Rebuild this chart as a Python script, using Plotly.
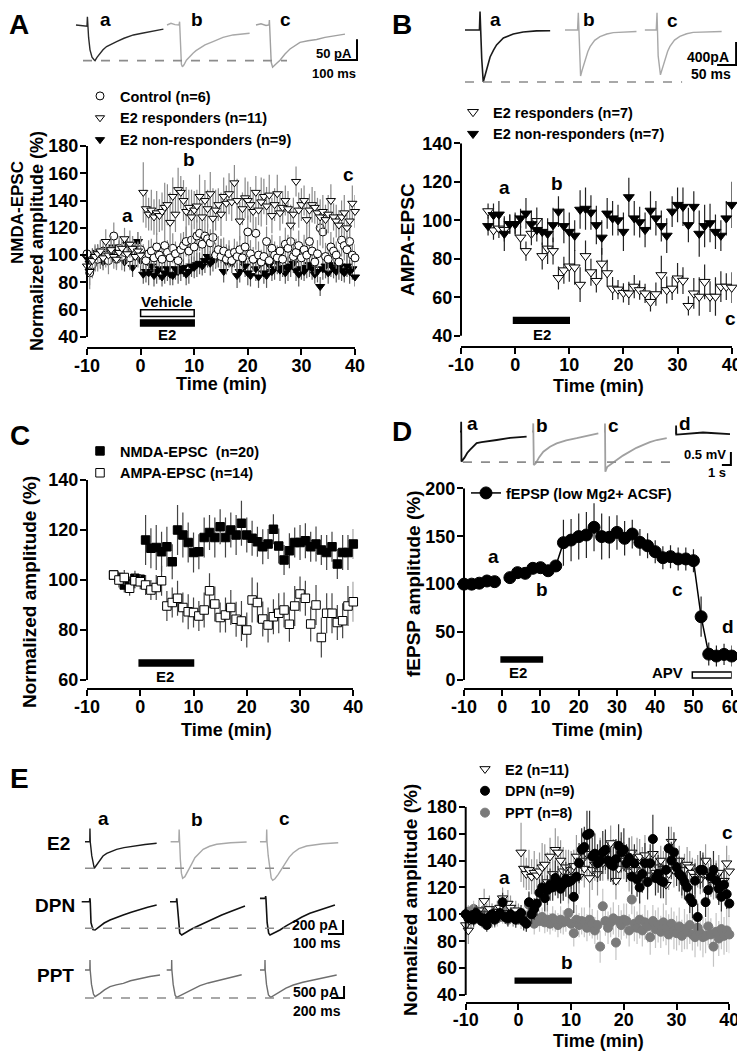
import plotly.graph_objects as go

W, H = 745, 1055          # page (window) size in px
OFF = 8                   # default page margin around the plot div
WF, HF = W - OFF, H - OFF # figure size so the figure fills the window
FONT = "Liberation Sans, Arial, Helvetica, sans-serif"

# ====================== DATA ======================
# ---- Panel A: NMDA-EPSC, 0.5-min bins from -10 to 40 min ----
A_TIME = [-10 + 0.5 * i for i in range(101)]
A_CONTROL = [
    101, 87, 93, 99, 97, 101, 103, 100, 96, 104,
    114, 97, 105, 99, 102, 103, 98, 104, 101, 100,
    104, 99, 96, 101, 103, 98, 106, 100, 97, 107,
    102, 98, 105, 101, 96, 104, 107, 110, 103, 111,
    106, 114, 116, 108, 114, 112, 109, 113, 100, 104,
    99, 103, 97, 101, 96, 102, 99, 104, 98, 106,
    117, 101, 97, 116, 100, 95, 99, 110, 96, 105,
    100, 98, 103, 97, 108, 105, 110, 99, 102, 107,
    98, 104, 100, 110, 103, 95, 101, 120, 117, 99,
    97, 106, 103, 100, 95, 111, 107, 104, 110, 100,
    98]
A_CONTROL_ERR = [
    9, 12, 10, 8, 9, 10, 8, 9, 10, 9,
    10, 8, 9, 10, 9, 8, 9, 10, 8, 9,
    10, 9, 8, 10, 9, 11, 10, 9, 8, 10,
    9, 10, 11, 9, 10, 12, 10, 11, 9, 12,
    11, 12, 13, 10, 12, 11, 10, 12, 9, 10,
    9, 10, 11, 10, 9, 10, 11, 10, 9, 10,
    12, 10, 9, 12, 10, 9, 10, 11, 9, 10,
    10, 9, 11, 10, 12, 10, 11, 9, 10, 11,
    10, 11, 10, 12, 10, 9, 10, 13, 12, 10,
    9, 11, 10, 10, 9, 12, 11, 10, 12, 10,
    10]
A_RESP = [
    92, 88, 96, 99, 101, 103, 98, 110, 100, 104,
    99, 97, 102, 105, 112, 101, 108, 105, 99, 103,
    100, 146, 134, 130, 133, 128, 131, 129, 132, 135,
    137, 124, 143, 130, 148, 146, 140, 132, 135, 128,
    133, 136, 143, 128, 140, 134, 145, 127, 133, 137,
    130, 143, 138, 145, 139, 153, 140, 125, 134, 142,
    140, 137, 132, 146, 133, 139, 143, 136, 144, 129,
    137, 145, 131, 135, 140, 134, 122, 130, 154, 133,
    137, 140, 126, 133, 137, 135, 131, 128, 132, 126,
    130, 140, 128, 125, 122, 128, 131, 120, 125, 138,
    132]
A_RESP_ERR = [
    8, 10, 7, 9, 6, 8, 7, 9, 8, 10,
    9, 7, 8, 9, 8, 7, 10, 9, 8, 7,
    8, 22, 14, 12, 15, 13, 16, 12, 14, 18,
    15, 22, 14, 13, 16, 12, 15, 18, 13, 20,
    14, 12, 16, 13, 15, 14, 16, 22, 15, 12,
    16, 14, 13, 15, 14, 13, 16, 14, 12, 15,
    14, 13, 15, 12, 11, 18, 13, 14, 15, 13,
    12, 14, 13, 12, 11, 13, 15, 12, 11, 13,
    12, 11, 14, 12, 13, 12, 11, 13, 12, 11,
    14, 12, 10, 12, 11, 12, 13, 11, 12, 13,
    12]
A_NONRESP = [
    98, 94, 100, 96, 102, 97, 95, 104, 99, 101,
    106, 97, 103, 100, 95, 108, 98, 91, 105, 110,
    96, 86, 88, 87, 92, 85, 88, 90, 84, 87,
    90, 86, 85, 90, 88, 89, 91, 86, 88, 92,
    91, 93, 94, 92, 96, 99, 94, 96, 97, 99,
    103, 88, 95, 99, 94, 99, 85, 88, 96, 92,
    87, 85, 96, 90, 84, 94, 87, 85, 93, 88,
    90, 95, 89, 91, 87, 90, 92, 94, 89, 86,
    90, 88, 91, 93, 90, 86, 88, 77, 90, 92,
    87, 93, 90, 88, 91, 89, 87, 92, 88, 90,
    84]
A_NONRESP_ERR = [
    6, 7, 5, 8, 6, 7, 6, 5, 7, 6,
    7, 6, 8, 6, 7, 6, 8, 7, 6, 7,
    8, 7, 8, 9, 7, 8, 9, 8, 7, 8,
    9, 8, 7, 8, 9, 8, 7, 8, 9, 8,
    8, 9, 8, 7, 9, 8, 9, 8, 7, 8,
    9, 8, 9, 8, 7, 8, 9, 8, 7, 8,
    9, 8, 7, 9, 8, 7, 8, 9, 8, 7,
    8, 9, 8, 7, 8, 9, 8, 7, 8, 9,
    8, 7, 8, 9, 8, 7, 8, 7, 8, 9,
    8, 9, 7, 8, 9, 8, 7, 8, 9, 8,
    7]

# ---- Panel B: AMPA-EPSC, 1-min bins from -5 to 40 min ----
B_TIME = list(range(-5, 41))
B_RESP = [
    104.7, 94.8, 95.7, 95, 98, 98, 91, 84, 93, 99.6,
    81.4, 85.3, 84, 70, 74, 76, 75.5, 66.5, 81.4, 73,
    68.5, 77.5, 72.5, 64.5, 64, 62.3, 62, 65.5, 63.7, 62,
    57.6, 61.6, 71.5, 63.7, 64.5, 69.8, 68.6, 55.5, 62, 60.3,
    68, 60.3, 60.3, 65.5, 65.5, 65]
B_RESP_ERR = [
    4, 5, 5, 6, 5, 5, 6, 5, 6, 7,
    7, 8, 7, 6, 7, 8, 9, 9, 8, 7,
    6, 8, 7, 6, 5, 5, 6, 6, 5, 5,
    5, 6, 10, 7, 6, 8, 7, 5, 8, 10,
    9, 8, 10, 8, 7, 8]
B_NONRESP = [
    97, 102.7, 103, 93, 98, 98, 101, 103.5, 98, 95,
    94, 93, 97.5, 104.5, 97, 94, 92, 105.5, 106, 104,
    97.5, 91, 103.5, 101, 100, 94, 112, 101, 99, 95,
    105, 101, 97, 92, 104.5, 108, 107, 97.5, 107, 93,
    97, 98.5, 94, 92, 101, 108]
B_NONRESP_ERR = [
    5, 6, 7, 9, 5, 6, 5, 8, 7, 6,
    7, 8, 9, 8, 9, 10, 8, 10, 11, 9,
    10, 9, 8, 9, 8, 10, 10, 9, 8, 9,
    10, 9, 8, 9, 8, 9, 10, 9, 8, 12,
    11, 10, 9, 8, 9, 12]

# ---- Panel C: 1-min bins from -5 to 40 min ----
C_TIME = list(range(-5, 41))
C_NMDA = [
    102, 101, 98, 98.4, 100.7, 100.3, 116, 112.7, 113, 111.3,
    113.3, 107.3, 120, 118, 115, 111, 111.3, 117, 119, 117,
    121.3, 117, 120, 118, 122.7, 118, 116.7, 115.3, 113.3, 114.4,
    120.3, 113.6, 108, 111.7, 115, 115, 115.7, 113.3, 114.4, 112,
    111, 113.3, 106.4, 111, 111, 114.4]
C_NMDA_ERR = [
    2, 2, 3, 3, 3, 2, 10, 8, 9, 8,
    8, 7, 10, 9, 8, 8, 7, 8, 7, 8,
    7, 8, 7, 8, 9, 7, 7, 6, 7, 6,
    6, 7, 6, 7, 6, 7, 7, 6, 7, 6,
    7, 6, 6, 7, 7, 6]
C_AMPA = [
    102, 100, 101, 96.7, 99.7, 99.3, 98, 96, 97, 99.7,
    89.6, 91, 92.7, 89, 87.3, 87, 85.6, 88, 95.7, 90.4,
    85, 86, 89, 84.3, 83.6, 80, 92, 91, 84.4, 82,
    85.3, 86.7, 88, 82.3, 89.6, 94.4, 92.7, 82.4, 90, 77,
    86.7, 86.7, 83, 83.7, 89.6, 91.3]
C_AMPA_ERR = [
    2, 3, 3, 3, 3, 3, 4, 4, 5, 6,
    6, 6, 7, 6, 7, 6, 6, 7, 7, 7,
    6, 7, 7, 7, 8, 7, 9, 8, 7, 7,
    7, 8, 7, 7, 8, 7, 7, 7, 8, 8,
    8, 8, 7, 7, 8, 8]

# ---- Panel D: fEPSP, 2-min bins (gap at 0 min) ----
D_TIME = [-10, -8, -6, -4, -2, 0, 2, 4, 6, 8, 10, 12, 14, 16, 18, 20,
          22, 24, 26, 28, 30, 32, 34, 36, 38, 40,
          42, 44, 46, 48, 50, 52, 54, 56, 58, 60]
D_AMP = [100, 100, 101, 103.3, 102.6, None,
         106.8, 112, 111.3, 116.5, 117.2, 114, 119, 143.3, 146, 149.6,
         151.3, 159.3, 149.6, 148.9, 154, 147.8, 152.3, 143.6, 140, 133.9,
         127.6, 128.7, 126.3, 126.3, 124.5, 66, 27, 25, 26.7, 25]
D_ERR = [1, 1, 1, 1, 1, 0,
         3, 6, 6, 4, 5, 4, 5, 24, 22, 24,
         24, 25, 24, 22, 18, 18, 15, 14, 13, 12,
         12, 12, 12, 12, 12, 21, 12, 11, 11, 11]

# ---- Panel E: 0.5-min bins from -10 to 40 min ----
E_TIME = A_TIME
E_E2 = A_RESP           # same E2 (n=11) recordings as panel A responders
E_E2_ERR = A_RESP_ERR
E_DPN = [
    100, 97, 99, 96, 101, 98, 95, 97, 92, 98,
    100, 96, 99, 101, 109, 98, 97, 100, 98, 96,
    99, 101, 95, 93, 109, 100, 104, 108, 116, 120,
    112, 118, 122, 120, 127, 124, 119, 122, 126, 124,
    125, 113, 128, 138, 148, 150, 159, 160, 143, 145,
    138, 140, 146, 148, 140, 137, 136, 141, 151, 146,
    148, 138, 142, 128, 138, 126, 120, 130, 138, 124,
    138, 156, 127, 130, 125, 124, 133, 149, 140, 146,
    135, 130, 128, 124, 120, 112, 109, 125, 98, 133,
    133, 109, 118, 128, 133, 125, 119, 113, 122, 115,
    108]
E_DPN_ERR = [
    5, 6, 4, 5, 6, 5, 4, 6, 5, 5,
    6, 5, 4, 6, 7, 5, 6, 5, 4, 6,
    5, 6, 7, 6, 8, 7, 8, 9, 10, 9,
    10, 11, 12, 10, 13, 12, 11, 12, 13, 12,
    13, 12, 14, 15, 16, 15, 18, 17, 14, 15,
    14, 15, 16, 15, 14, 13, 14, 15, 16, 15,
    16, 14, 15, 13, 14, 13, 12, 14, 15, 13,
    14, 18, 13, 14, 13, 12, 14, 16, 14, 15,
    14, 13, 14, 13, 12, 11, 12, 13, 10, 14,
    13, 11, 12, 13, 14, 13, 12, 11, 12, 11,
    10]
E_PPT = [
    100, 102, 98, 104, 99, 101, 97, 103, 100, 96,
    102, 99, 97, 101, 98, 103, 96, 100, 98, 97,
    101, 96, 99, 95, 107, 101, 93, 97, 95, 98,
    94, 96, 93, 97, 95, 92, 96, 94, 95, 101,
    93, 86, 96, 92, 95, 94, 90, 96, 93, 88,
    92, 76, 106, 95, 90, 94, 97, 79, 95, 92,
    96, 95, 88, 111, 93, 90, 96, 88, 94, 91,
    83, 95, 89, 92, 87, 94, 90, 85, 93, 88,
    86, 91, 84, 89, 87, 92, 85, 83, 90, 86,
    83, 84, 91, 85, 76, 87, 82, 89, 84, 88,
    85]
E_PPT_ERR = [
    6, 5, 7, 6, 5, 6, 7, 5, 6, 5,
    6, 5, 6, 7, 5, 6, 5, 6, 7, 5,
    6, 7, 6, 8, 9, 7, 8, 7, 8, 7,
    8, 9, 8, 9, 8, 9, 10, 9, 8, 10,
    9, 10, 11, 9, 10, 11, 10, 12, 11, 10,
    11, 12, 13, 11, 12, 11, 12, 13, 12, 11,
    12, 13, 12, 11, 13, 12, 14, 12, 13, 12,
    13, 12, 14, 13, 12, 14, 13, 15, 12, 14,
    13, 14, 12, 15, 13, 14, 12, 15, 14, 13,
    15, 13, 14, 12, 15, 14, 13, 15, 14, 16,
    14]

# ---- Example current / potential traces (time, amplitude) ----
# Panel A (ms, pA)
A_TR_A_T = [0, 30, 55, 57, 59, 63, 70, 80, 90, 95, 105, 120, 135, 153, 175, 203, 240, 287, 330, 370, 410, 437]
A_TR_A_I = [0, -2, -3, 20, 0, -30, -60, -78, -84, -86, -78, -68, -60, -52, -46, -40, -32, -24, -20, -16, -13, -10]
A_TR_B_T = [0, 20, 40, 60, 63, 66, 72, 77, 85, 97, 112, 130, 145, 163, 190, 230, 280, 330, 380, 413]
A_TR_B_I = [0, 4, 1, 0, 8, -50, -95, -101, -96, -85, -76, -68, -62, -56, -48, -40, -30, -24, -22, -20]
A_TR_C_T = [0, 25, 50, 65, 67, 70, 76, 83, 92, 105, 120, 145, 170, 195, 220, 260, 303, 345, 387, 445]
A_TR_C_I = [0, 3, -1, 0, 12, -40, -90, -102, -97, -92, -85, -70, -58, -50, -42, -38, -35, -30, -26, -22]
# Panel B (ms, pA)
B_TR_A_T = [0, 20, 38, 39.5, 41, 44, 48, 52, 57, 66, 75, 83, 101, 127, 153, 188, 224]
B_TR_A_I = [0, 0, 0, 320, 0, -500, -905, -800, -660, -470, -350, -260, -140, -70, -35, -15, -12]
B_TR_B_T = [0, 20, 33, 35, 36.5, 38, 41, 45, 52.6, 60, 66, 78, 92, 110, 127, 160, 188]
B_TR_B_I = [0, 0, 0, 300, 0, -450, -800, -700, -520, -380, -290, -180, -115, -70, -46, -30, -25]
B_TR_C_T = [0, 20, 30, 32, 33.5, 35, 41, 45, 52, 60, 66, 78, 92, 110, 127, 165, 202]
B_TR_C_I = [0, 0, 0, 300, 0, -450, -780, -690, -510, -370, -285, -175, -110, -65, -42, -28, -25]
# Panel D (s, mV)
D_TR_A_T = [0, 0.12, 0.13, 0.16, 0.5, 0.8, 1.1, 1.5, 1.85, 2.4, 2.97, 4.08, 5.56, 6.5, 7.4]
D_TR_A_V = [0, 0, 0.38, -1.15, -1.0, -0.82, -0.70, -0.55, -0.44, -0.40, -0.38, -0.32, -0.24, -0.22, -0.19]
D_TR_B_T = [0, 0.12, 0.14, 0.2, 0.41, 0.8, 1.26, 2.0, 2.74, 3.8, 4.97, 6.2, 7.37]
D_TR_B_V = [0, 0, 0.32, -1.28, -1.22, -0.98, -0.77, -0.58, -0.45, -0.33, -0.25, -0.15, -0.06]
D_TR_C_T = [0, 0.1, 0.11, 0.15, 0.37, 0.9, 1.41, 2.1, 2.89, 3.6, 4.37, 5.1, 5.86, 6.97]
D_TR_C_V = [0, 0, 0.32, -1.54, -1.35, -1.2, -1.09, -0.92, -0.77, -0.62, -0.51, -0.4, -0.32, -0.25]
D_TR_D_T = [0, 0.1, 0.11, 0.13, 0.5, 1.5, 2.5, 3.1, 4.0, 5.0, 6.1]
D_TR_D_V = [0, 0, 0.3, -0.05, -0.04, -0.02, 0.0, 0.03, 0.01, -0.02, -0.03]
# Panel E, E2 row (ms, pA)
E_E2_A_T = [0, 25, 32, 33, 35, 45, 55, 62, 75, 100, 120, 145, 175, 211, 260, 322, 400, 478]
E_E2_A_I = [0, 0, 0, 190, 0, -200, -340, -380, -340, -262, -205, -166, -135, -109, -85, -61, -40, -23]
E_E2_B_T = [0, 30, 55, 57, 59, 65, 72, 80, 95, 117, 140, 162, 190, 217, 260, 307, 400, 507]
E_E2_B_I = [0, 0, 0, 175, 0, -250, -450, -523, -500, -419, -320, -229, -160, -109, -65, -37, -15, -4]
E_E2_C_T = [0, 30, 43, 45, 47, 55, 65, 75, 85, 100, 122, 145, 167, 195, 222, 260, 311, 420, 522]
E_E2_C_I = [0, 0, 0, 175, 0, -200, -400, -520, -552, -530, -466, -390, -300, -220, -157, -100, -61, -30, -14]
# Panel E, DPN row (ms, pA)
E_DPN_A_T = [0, 30, 52, 55, 57, 62, 75, 89, 105, 122, 150, 189, 230, 277, 330, 389, 440, 500]
E_DPN_A_I = [0, 2, 0, 50, 0, -300, -400, -405, -380, -347, -305, -262, -225, -190, -150, -109, -80, -47]
E_DPN_B_T = [0, 30, 43, 45, 47, 55, 65, 78, 100, 133, 165, 200, 245, 289, 345, 400, 450, 500]
E_DPN_B_I = [0, 2, 0, 50, 0, -300, -450, -476, -445, -405, -370, -333, -285, -238, -190, -143, -100, -61]
E_DPN_C_T = [0, 30, 36, 38, 40, 48, 58, 67, 90, 133, 175, 222, 280, 333, 380, 422, 460, 500]
E_DPN_C_I = [48, 48, 48, 80, 40, -300, -450, -476, -450, -405, -345, -286, -220, -166, -135, -109, -75, -47]
# Panel E, PPT row (ms, pA)
E_PPT_A_T = [0, 60, 75, 77, 80, 100, 130, 154, 190, 231, 300, 385, 480, 590, 700, 847, 1000, 1155]
E_PPT_A_I = [0, 0, 0, 417, 0, -600, -1000, -1113, -1060, -972, -830, -696, -620, -555, -450, -346, -270, -208]
E_PPT_B_T = [0, 60, 75, 77, 80, 100, 130, 154, 200, 308, 400, 513, 640, 770, 960, 1155]
E_PPT_B_I = [0, 0, 0, 417, 0, -600, -1050, -1142, -1080, -934, -790, -655, -540, -446, -310, -196]
E_PPT_C_T = [0, 60, 75, 77, 80, 100, 130, 165, 210, 308, 400, 513, 660, 821, 1000, 1181]
E_PPT_C_I = [0, 0, 0, 417, 0, -600, -1040, -1138, -1060, -905, -760, -625, -510, -417, -300, -208]

# ====================== FIGURE ======================
fig = go.Figure()
layout = dict(width=WF, height=HF,
              margin=dict(l=0, r=0, t=0, b=0, pad=0, autoexpand=False),
              paper_bgcolor="white", plot_bgcolor="rgba(0,0,0,0)",
              showlegend=True, annotations=[], shapes=[])
TICKFONT = dict(family=FONT, size=18, color="black", weight="bold")
AX = {"n": 0}


def fxp(px):
    return (px - OFF) / WF


def fyp(py):
    return 1 - (py - OFF) / HF


def make_axes(xdom_px, ydom_px, xr, yr, visible):
    AX["n"] += 1
    n = AX["n"]
    s = "" if n == 1 else str(n)
    layout["xaxis" + s] = dict(domain=[fxp(xdom_px[0]), fxp(xdom_px[1])], range=xr,
                               anchor="y" + s, visible=visible, fixedrange=True,
                               showgrid=False, zeroline=False, automargin=False)
    layout["yaxis" + s] = dict(domain=[fyp(ydom_px[1]), fyp(ydom_px[0])], range=yr,
                               anchor="x" + s, visible=visible, fixedrange=True,
                               showgrid=False, zeroline=False, automargin=False)
    return "x" + s, "y" + s, "xaxis" + s, "yaxis" + s


def make_panel(xcal, ycal, ybot_px, xticks, yticks):
    xv0, xp0, xv1, xp1 = xcal
    yv0, yp0, yv1, yp1 = ycal
    ylo = yv0 + (ybot_px - yp0) * (yv1 - yv0) / (yp1 - yp0)
    xref, yref, xa, ya = make_axes((xp0, xp1), (yp1, ybot_px), [xv0, xv1], [ylo, yv1], True)
    layout[xa].update(showline=True, linewidth=2, linecolor="black", ticks="outside",
                      ticklen=6, tickwidth=2, tickcolor="black", tickvals=xticks,
                      ticktext=[str(v) for v in xticks], tickfont=TICKFONT,
                      ticklabelstandoff=-5)
    layout[ya].update(showline=False, ticks="outside", ticklen=6, tickwidth=2,
                      tickcolor="black", tickvals=yticks,
                      ticktext=[str(v) for v in yticks], tickfont=TICKFONT,
                      ticklabelstandoff=-2)
    layout["shapes"].append(dict(type="line", xref=xref + " domain", yref=yref, x0=0, x1=0,
                                 y0=yticks[0], y1=yticks[-1],
                                 line=dict(color="black", width=2)))
    return xref, yref


def make_inset(box, x_zero_px, x_per_px, y_zero_px, y_per_px):
    x0p, x1p, ytp, ybp = box
    xr = [(x0p - x_zero_px) * x_per_px, (x1p - x_zero_px) * x_per_px]
    yr = [-(ybp - y_zero_px) * y_per_px, -(ytp - y_zero_px) * y_per_px]
    xref, yref, _, _ = make_axes((x0p, x1p), (ytp, ybp), xr, yr, False)
    return xref, yref


def ann(text, x, y, xref="paper", yref="paper", size=15, xanchor="center",
        yanchor="middle", angle=0):
    layout["annotations"].append(dict(
        text=text, x=x, y=y, xref=xref, yref=yref, showarrow=False,
        font=dict(family=FONT, size=size, color="black", weight="bold"),
        xanchor=xanchor, yanchor=yanchor, textangle=angle))


def annpx(text, px, py, **kw):
    ann(text, fxp(px), fyp(py), **kw)


def wave(xref, yref, T, V, t0, v0, color, width=1.4):
    fig.add_trace(go.Scatter(x=[t0 + t for t in T], y=[v0 + v for v in V], mode="lines",
                             line=dict(color=color, width=width), xaxis=xref, yaxis=yref,
                             showlegend=False, hoverinfo="skip"))


def dashline(xref, yref, t_from, t_to, v):
    fig.add_trace(go.Scatter(x=[t_from, t_to], y=[v, v], mode="lines",
                             line=dict(color="#8c8c8c", width=1.6, dash="dash"),
                             xaxis=xref, yaxis=yref, showlegend=False, hoverinfo="skip"))


def scalebar(xref, yref, t_right, v_bottom, dt, dv):
    fig.add_trace(go.Scatter(x=[t_right - dt, t_right, t_right],
                             y=[v_bottom, v_bottom, v_bottom + dv], mode="lines",
                             line=dict(color="black", width=2),
                             xaxis=xref, yaxis=yref, showlegend=False, hoverinfo="skip"))


def series(xref, yref, x, y, err, name, legend, rank, symbol, size, fill, line_color,
           err_color, line_w=1.0, mode="markers", err_w=1.2):
    fig.add_trace(go.Scatter(
        x=x, y=y, mode=mode, name=name, legend=legend, legendrank=rank,
        marker=dict(symbol=symbol, size=size, color=fill,
                    line=dict(color=line_color, width=line_w)),
        line=dict(color="black", width=1.5),
        error_y=dict(type="data", array=err, visible=True, color=err_color,
                     thickness=err_w, width=0),
        xaxis=xref, yaxis=yref, cliponaxis=False, connectgaps=False, hoverinfo="skip"))


def bar(xref, yref, x0, x1, y0, y1, fill):
    layout["shapes"].append(dict(type="rect", xref=xref, yref=yref, x0=x0, x1=x1, y0=y0, y1=y1,
                                 line=dict(color="black", width=1.5), fillcolor=fill))


# ---------------- Panel A ----------------
xa_, ya_ = make_panel((-10, 87, 40, 355), (40, 337, 180, 146), 347,
                      [-10, 0, 10, 20, 30, 40], [40, 60, 80, 100, 120, 140, 160, 180])
series(xa_, ya_, A_TIME, A_NONRESP, A_NONRESP_ERR, "E2 non-responders (n=9)", "legend", 3,
       "triangle-down", 8, "black", "black", "#5a5a5a")
series(xa_, ya_, A_TIME, A_CONTROL, A_CONTROL_ERR, "Control (n=6)", "legend", 1,
       "circle", 8, "white", "black", "#8a8a8a")
series(xa_, ya_, A_TIME, A_RESP, A_RESP_ERR, "E2 responders (n=11)", "legend", 2,
       "triangle-down", 8, "white", "black", "#8a8a8a")
bar(xa_, ya_, 0, 10, 55, 60, "white")
bar(xa_, ya_, 0, 10, 48, 52.5, "black")
ann("Vehicle", 5, 66, xa_, ya_, size=15)
ann("E2", 5, 41.5, xa_, ya_, size=15)
ann("a", -2.5, 129, xa_, ya_, size=19)
ann("b", 9.0, 170, xa_, ya_, size=19)
ann("c", 38.7, 159, xa_, ya_, size=19)
annpx("Time (min)", 221, 384, size=18)
annpx("NMDA-EPSC", 18, 213, size=17, angle=-90)
annpx("Normalized amplitude (%)", 37, 241, size=18, angle=-90)

# A traces
xt, yt = make_inset((70, 372, 8, 85), 76, 5.0, 25, 2.415)
wave(xt, yt, A_TR_A_T, A_TR_A_I, 0, 0, "#2a2a2a")
wave(xt, yt, A_TR_B_T, A_TR_B_I, 455, 0, "#a8a8a8")
wave(xt, yt, A_TR_C_T, A_TR_C_I, 900, 0, "#a0a0a0")
dashline(xt, yt, 35, 1055, min(A_TR_A_I))
scalebar(xt, yt, 1405, -84.5, 100, 50)
annpx("50 pA", 354, 54, size=13, xanchor="right")
annpx("100 ms", 358, 74, size=13, xanchor="right")
annpx("a", 105, 19.5, size=19)
annpx("b", 197, 20, size=19)
annpx("c", 285, 19.5, size=19)
annpx("A", 19, 24, size=28)

# ---------------- Panel B ----------------
xb_, yb_ = make_panel((-10, 461, 40, 731.7), (40, 335.7, 140, 143.2), 346,
                      [-10, 0, 10, 20, 30, 40], [40, 60, 80, 100, 120, 140])
series(xb_, yb_, B_TIME, B_RESP, B_RESP_ERR, "E2 responders (n=7)", "legend2", 1,
       "triangle-down", 9.5, "white", "black", "#222222")
series(xb_, yb_, B_TIME, B_NONRESP, B_NONRESP_ERR, "E2 non-responders (n=7)", "legend2", 2,
       "triangle-down", 9.5, "black", "black", "#222222")
bar(xb_, yb_, -0.3, 10, 46.5, 49.5, "black")
ann("E2", 4.9, 40.5, xb_, yb_, size=15)
ann("a", -2.0, 117, xb_, yb_, size=19)
ann("b", 7.8, 119, xb_, yb_, size=19)
ann("c", 39.7, 49, xb_, yb_, size=19)
annpx("Time (min)", 598, 386, size=18)
annpx("AMPA-EPSC", 407, 240, size=19, angle=-90)

xt, yt = make_inset((455, 745, 8, 90), 465, 2.63, 30, 17.4)
wave(xt, yt, B_TR_A_T, B_TR_A_I, 0, 0, "#1a1a1a", 1.6)
wave(xt, yt, B_TR_B_T, B_TR_B_I, 263, 0, "#a8a8a8")
wave(xt, yt, B_TR_C_T, B_TR_C_I, 473, 0, "#a8a8a8")
dashline(xt, yt, 0, 571, min(B_TR_A_I))
scalebar(xt, yt, 713, -609, 50, 400)
annpx("400pA", 731, 57, size=14, xanchor="right")
annpx("50 ms", 733, 74, size=14, xanchor="right")
annpx("a", 495, 19.5, size=19)
annpx("b", 589, 20, size=19)
annpx("c", 672, 20.5, size=19)
annpx("B", 402, 24, size=28)

# ---------------- Panel C ----------------
xc_, yc_ = make_panel((-10, 87, 40, 353.3), (60, 680, 140, 480), 688,
                      [-10, 0, 10, 20, 30, 40], [60, 80, 100, 120, 140])
series(xc_, yc_, C_TIME, C_NMDA, C_NMDA_ERR, "NMDA-EPSC\u00a0 (n=20)", "legend3", 1,
       "square", 8.5, "black", "black", "#444444")
series(xc_, yc_, C_TIME, C_AMPA, C_AMPA_ERR, "AMPA-EPSC (n=14)", "legend3", 2,
       "square", 8.5, "white", "black", "#444444")
bar(xc_, yc_, -0.2, 10, 65.6, 68, "black")
ann("E2", 4.6, 61.5, xc_, yc_, size=15)
annpx("Time (min)", 227, 730, size=18)
annpx("Normalized amplitude (%)", 29, 592, size=19, angle=-90)
annpx("C", 20, 435, size=28)

# ---------------- Panel D ----------------
xd_, yd_ = make_panel((-10, 464, 60, 731.7), (0, 680, 200, 488.3), 688,
                      [-10, 0, 10, 20, 30, 40, 50, 60], [0, 50, 100, 150, 200])
series(xd_, yd_, D_TIME, D_AMP, D_ERR, "fEPSP (low Mg2+ ACSF)", "legend4", 1,
       "circle", 12, "black", "black", "#222222", mode="lines+markers")
bar(xd_, yd_, -0.3, 10.5, 18.8, 24, "black")
bar(xd_, yd_, 49.7, 60, 2, 8.3, "white")
ann("E2", 4.1, 7.5, xd_, yd_, size=15)
ann("APV", 47.8, 7.5, xd_, yd_, size=15, xanchor="right")
ann("a", -2.4, 129, xd_, yd_, size=19)
ann("b", 10.4, 94, xd_, yd_, size=19)
ann("c", 45.7, 94, xd_, yd_, size=19)
ann("d", 59.0, 56, xd_, yd_, size=19)
annpx("Time (min)", 597, 730, size=18)
annpx("fEPSP amplitude (%)", 413, 584, size=19, angle=-90)

xt, yt = make_inset((450, 745, 412, 480), 460, 1 / 9, 431.7, 0.0385)
wave(xt, yt, D_TR_A_T, D_TR_A_V, 0, 0, "#111111", 1.8)
wave(xt, yt, D_TR_B_T, D_TR_B_V, 8.0, 0, "#a0a0a0", 1.8)
wave(xt, yt, D_TR_C_T, D_TR_C_V, 16.0, 0, "#a0a0a0", 1.8)
wave(xt, yt, D_TR_D_T, D_TR_D_V, 23.9, -0.06, "#111111", 1.8)
dashline(xt, yt, 0.33, 23.6, -1.17)
scalebar(xt, yt, 30.1, -1.28, 1, 0.5)
annpx("0.5 mV", 728, 454, size=13, xanchor="right")
annpx("1 s", 728, 472, size=13, xanchor="right")
annpx("a", 472, 423, size=19)
annpx("b", 542, 425, size=19)
annpx("c", 613, 425, size=19)
annpx("d", 685, 423, size=19)
annpx("D", 402, 431, size=28)

# ---------------- Panel E ----------------
xe_, ye_ = make_panel((-10, 465.7, 40, 729.3), (40, 995, 180, 806.7), 1001.7,
                      [-10, 0, 10, 20, 30, 40], [40, 60, 80, 100, 120, 140, 160, 180])
series(xe_, ye_, E_TIME, E_PPT, E_PPT_ERR, "PPT (n=8)", "legend5", 3,
       "circle", 9, "#7a7a7a", "#7a7a7a", "#c4c4c4")
series(xe_, ye_, E_TIME, E_E2, E_E2_ERR, "E2 (n=11)", "legend5", 1,
       "triangle-down", 9, "white", "black", "#9a9a9a")
series(xe_, ye_, E_TIME, E_DPN, E_DPN_ERR, "DPN (n=9)", "legend5", 2,
       "circle", 9, "black", "black", "#333333")
bar(xe_, ye_, -0.6, 10, 49, 52.5, "black")
ann("a", -2.7, 127, xe_, ye_, size=19)
ann("b", 9.2, 64, xe_, ye_, size=19)
ann("c", 39.6, 161, xe_, ye_, size=19)
annpx("Time (min)", 598, 1041, size=18)
annpx("Normalized amplitude (%)", 410, 900, size=19, angle=-90)

xt, yt = make_inset((75, 360, 805, 948), 85, 6.67, 841.7, 14.3)
wave(xt, yt, E_E2_A_T, E_E2_A_I, 0, 0, "#1a1a1a")
wave(xt, yt, E_E2_B_T, E_E2_B_I, 571, 0, "#a8a8a8")
wave(xt, yt, E_E2_C_T, E_E2_C_I, 1167, 0, "#a8a8a8")
dashline(xt, yt, 0, 1367, min(E_E2_A_I))
wave(xt, yt, E_DPN_A_T, E_DPN_A_I, -22, -858, "#111111", 1.6)
wave(xt, yt, E_DPN_B_T, E_DPN_B_I, 567, -858, "#111111", 1.6)
wave(xt, yt, E_DPN_C_T, E_DPN_C_I, 1167, -858, "#111111", 1.6)
dashline(xt, yt, 0, 1367, -1238)
scalebar(xt, yt, 1721, -1320, 100, 200)
annpx("200 pA", 340, 925, size=14, xanchor="right")
annpx("100 ms", 343, 943, size=14, xanchor="right")

xt, yt = make_inset((75, 360, 950, 1015), 85, 15.4, 970, 41.7)
wave(xt, yt, E_PPT_A_T, E_PPT_A_I, 0, 0, "#6e6e6e")
wave(xt, yt, E_PPT_B_T, E_PPT_B_I, 1258, 0, "#6e6e6e")
wave(xt, yt, E_PPT_C_T, E_PPT_C_I, 2695, 0, "#6e6e6e")
dashline(xt, yt, 0, 3157, -1168)
scalebar(xt, yt, 3989, -1168, 200, 500)
annpx("500 pA", 341, 992, size=14, xanchor="right")
annpx("200 ms", 343, 1011, size=14, xanchor="right")

annpx("E2", 72, 843, size=19, xanchor="right")
annpx("DPN", 77, 905, size=19, xanchor="right")
annpx("PPT", 76, 975, size=19, xanchor="right")
annpx("a", 104, 818, size=19)
annpx("b", 197, 819, size=19)
annpx("c", 284, 818, size=19)
annpx("E", 20, 778, size=28)

# ---------------- Legends ----------------
def legend_at(px, py):
    return dict(x=fxp(px), y=fyp(py), xanchor="left", yanchor="top",
                bgcolor="rgba(0,0,0,0)", borderwidth=0, tracegroupgap=0,
                font=dict(family=FONT, size=14.5, color="black", weight="bold"),
                itemclick=False, itemdoubleclick=False)

layout["legend"] = legend_at(80, 80)
layout["legend2"] = legend_at(453, 96)
layout["legend3"] = legend_at(80, 435)
layout["legend4"] = legend_at(466, 477)
layout["legend5"] = legend_at(465, 753)

fig.update_layout(**layout)
fig.write_html("out.html")
